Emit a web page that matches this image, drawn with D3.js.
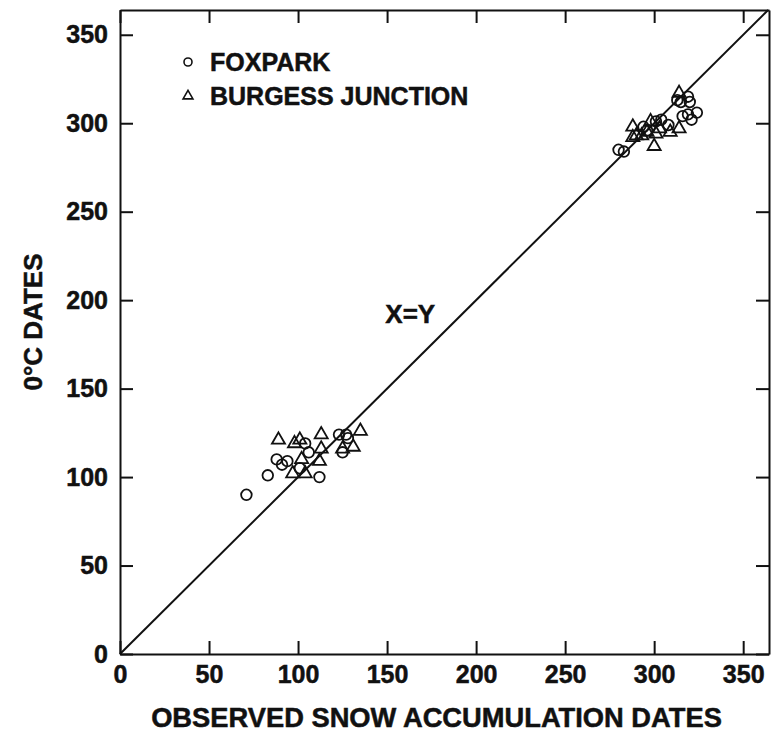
<!DOCTYPE html>
<html>
<head>
<meta charset="utf-8">
<script src="https://cdn.jsdelivr.net/npm/d3@7"></script>
<style>
  body { margin: 0; background: #fff; }
  svg text { font-family: "Liberation Sans", Arial, Helvetica, sans-serif; font-weight: bold; fill: #111; stroke: #111; stroke-width: 0.5; }
  .axis path, .axis line { stroke: #111; stroke-width: 2; }
</style>
</head>
<body>
<div id="chart"></div>
<script>
// Snow accumulation dates vs 0°C dates, two stations + the X=Y line.
const tickValues = [0, 50, 100, 150, 200, 250, 300, 350];
const seriesNames = ["FOXPARK", "BURGESS JUNCTION"];

// [observed snow accumulation date, 0°C date]
const foxpark = [
  [71, 90], [83, 101], [88, 110], [91, 107], [94, 109], [101, 105], [104, 119],
  [106, 114], [112, 100], [123, 124], [127, 124], [128, 122], [125, 114],
  [280, 285], [283, 284], [294, 298], [296, 296], [301, 301], [304, 302], [308, 299],
  [313, 313], [315, 312], [319, 315], [320, 312], [316, 304], [319, 305], [321, 302], [324, 306]
];
const burgess = [
  [89, 121], [98, 119], [101, 121], [113, 124], [113, 116], [102, 110], [112, 109],
  [97, 102], [104, 102], [135, 126], [125, 116], [131, 117],
  [300, 287], [288, 298], [288, 292], [290, 293], [293, 293], [298, 301], [301, 294],
  [303, 297], [309, 295], [314, 297], [314, 317], [296, 295]
];

const W = 773, H = 734;
const svg = d3.select("#chart").append("svg").attr("width", W).attr("height", H);

const x = d3.scaleLinear().domain([0, 364.5]).range([120, 769]);
const y = d3.scaleLinear().domain([0, 364]).range([654, 10]);
const TK = 13;

// axes: bottom + left labelled, top + right ticks only, all ticks inward
svg.append("g").attr("class", "axis").attr("transform", `translate(0,${y(0)})`)
  .call(d3.axisBottom(x).tickValues(tickValues).tickSizeInner(-TK).tickSizeOuter(0).tickPadding(11))
  .call(g => g.selectAll("text").attr("font-size", 25));
svg.append("g").attr("class", "axis").attr("transform", `translate(${x(0)},0)`)
  .call(d3.axisLeft(y).tickValues(tickValues).tickSizeInner(-TK).tickSizeOuter(0).tickPadding(12))
  .call(g => g.selectAll("text").attr("font-size", 25));
svg.append("g").attr("class", "axis").attr("transform", `translate(0,${y.range()[1]})`)
  .call(d3.axisTop(x).tickValues(tickValues).tickSizeInner(-TK).tickSizeOuter(0).tickFormat(""));
svg.append("g").attr("class", "axis").attr("transform", `translate(${x.range()[1]},0)`)
  .call(d3.axisRight(y).tickValues(tickValues).tickSizeInner(-TK).tickSizeOuter(0).tickFormat(""));
svg.selectAll(".axis .domain").attr("stroke-width", 2.2);

// X=Y line
const lim = d3.min([x.domain()[1], y.domain()[1]]);
svg.append("path").datum([[0, 0], [lim, lim]])
  .attr("d", d3.line().x(d => x(d[0])).y(d => y(d[1])))
  .attr("fill", "none").attr("stroke", "#111").attr("stroke-width", 2);
svg.append("text").attr("x", x(149)).attr("y", y(187)).attr("font-size", 26).text("X=Y");

// points
const tri = d3.symbol().type(d3.symbolTriangle).size(74);
svg.append("g").selectAll("path").data(burgess).join("path")
  .attr("d", tri).attr("transform", d => `translate(${x(d[0])},${y(d[1])})`)
  .attr("fill", "none").attr("stroke", "#111").attr("stroke-width", 1.8);
svg.append("g").selectAll("circle").data(foxpark).join("circle")
  .attr("cx", d => x(d[0])).attr("cy", d => y(d[1])).attr("r", 5.3)
  .attr("fill", "none").attr("stroke", "#111").attr("stroke-width", 1.8);

// legend
const leg = svg.append("g").attr("transform", "translate(188,62)");
leg.append("circle").attr("r", 4).attr("fill", "none").attr("stroke", "#111").attr("stroke-width", 1.6);
leg.append("path").attr("d", d3.symbol().type(d3.symbolTriangle).size(42))
  .attr("transform", "translate(0,34)").attr("fill", "none").attr("stroke", "#111").attr("stroke-width", 1.6);
leg.selectAll("text").data(seriesNames).join("text")
  .attr("x", 22).attr("y", (d, i) => i * 34).attr("dy", "0.36em").attr("font-size", 25).text(d => d);

// axis titles
svg.append("text").attr("x", (x.range()[0] + x.range()[1]) / 2 - 8).attr("y", 727)
  .attr("text-anchor", "middle").attr("font-size", 27.3).text("OBSERVED SNOW ACCUMULATION DATES");
svg.append("text").attr("transform", "translate(42,322) rotate(-90)")
  .attr("text-anchor", "middle").attr("font-size", 26).text("0°C DATES");
</script>
</body>
</html>
